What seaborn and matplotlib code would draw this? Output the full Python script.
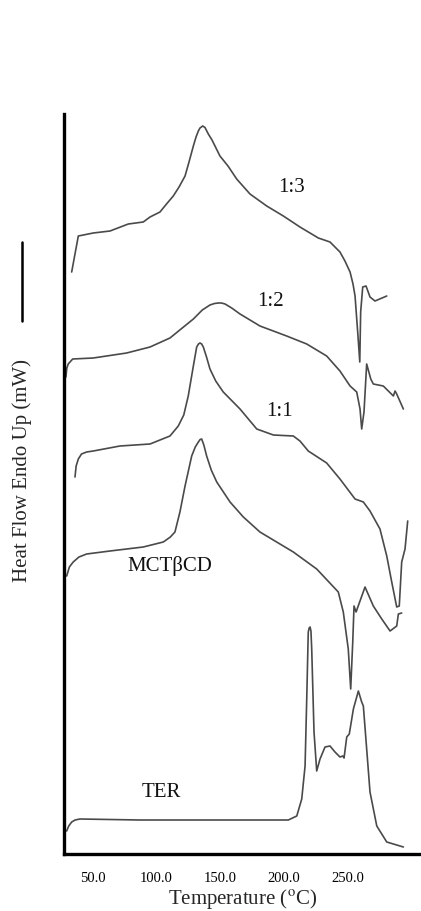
import numpy as np
import pandas as pd
import matplotlib
matplotlib.use("Agg")
import matplotlib.pyplot as plt
import seaborn as sns

# DSC thermograms (temperature in degC, heat flow in arbitrary offset units)
t_13 = [33.8, 39.0, 50.7, 63.8, 78.1, 89.8, 95.1, 102.9, 108.0, 113.3, 117.8, 122.5,
        125.6, 129.0, 131.1, 132.9, 134.2, 136.3, 138.1, 140.7, 143.6, 149.8, 156.1,
        162.9, 173.3, 186.4, 199.4, 212.4, 226.8, 235.9, 243.7, 247.6, 251.6, 253.9,
        255.5, 257.8, 259.2, 259.9, 261.5, 264.1, 267.2, 271.1, 280.3]
hf_13 = [58.2, 61.8, 62.1, 62.3, 63.0, 63.2, 63.7, 64.2, 65.0, 65.8, 66.7, 67.8,
         69.2, 70.8, 71.7, 72.3, 72.6, 72.8, 72.65, 72.0, 71.4, 69.8, 68.8,
         67.5, 66.0, 64.8, 63.8, 62.7, 61.6, 61.2, 60.2, 59.3, 58.2, 57.0,
         55.8, 51.8, 49.2, 54.2, 56.7, 56.8, 55.7, 55.3, 55.8]

t_12 = [29.3, 30.0, 31.1, 34.6, 50.7, 76.8, 95.1, 110.7, 129.0, 136.0, 142.0, 145.5,
        148.5, 151.0, 153.8, 159.0, 165.5, 181.1, 202.0, 217.7, 233.3, 243.7, 251.6,
        256.8, 259.4, 260.7, 262.5, 264.6, 267.8, 269.8, 277.6, 285.5, 286.8, 288.1,
        293.3]
hf_12 = [47.7, 48.6, 49.0, 49.5, 49.6, 50.1, 50.7, 51.6, 53.5, 54.4, 54.9, 55.05,
         55.1, 55.1, 55.0, 54.6, 54.0, 52.8, 51.8, 51.0, 49.8, 48.3, 46.8,
         46.2, 44.5, 42.5, 44.2, 49.0, 47.5, 47.0, 46.8, 45.8, 46.3, 46.0,
         44.5]

t_11 = [36.4, 37.3, 39.0, 41.5, 45.5, 50.7, 71.6, 95.1, 110.7, 117.2, 121.5, 125.0,
        129.0, 131.6, 133.0, 134.2, 135.5, 136.8, 139.3, 142.0, 146.5, 152.4, 165.5,
        178.6, 191.6, 207.2, 212.4, 218.9, 233.3, 243.7, 255.5, 262.0, 267.2, 275.0,
        280.3, 284.2, 288.1, 290.1, 292.0, 294.6, 296.7]
hf_11 = [37.7, 38.8, 39.5, 40.0, 40.2, 40.3, 40.8, 41.0, 41.8, 42.8, 43.9, 45.8,
         48.8, 50.7, 51.0, 51.1, 51.0, 50.7, 49.7, 48.5, 47.3, 46.2, 44.5,
         42.5, 41.9, 41.8, 41.3, 40.3, 39.1, 37.5, 35.5, 35.2, 34.3, 32.5,
         29.8, 27.2, 24.7, 24.8, 29.2, 30.5, 33.3]

t_mct = [29.9, 32.0, 35.0, 39.5, 45.5, 63.8, 89.8, 105.5, 111.0, 114.6, 118.5, 122.5,
         127.7, 130.5, 132.9, 134.3, 135.5, 137.2, 139.4, 143.0, 147.3, 157.7, 168.1,
         181.1, 207.2, 225.5, 242.4, 246.3, 250.2, 252.1, 253.7, 254.7, 256.3, 263.3,
         269.8, 276.4, 282.9, 288.1, 289.4, 292.0]
hf_mct = [27.8, 28.7, 29.2, 29.7, 30.0, 30.3, 30.7, 31.2, 31.7, 32.2, 34.2, 36.8,
          39.8, 40.7, 41.2, 41.45, 41.5, 40.9, 39.8, 38.4, 37.2, 35.2, 33.7,
          32.2, 30.2, 28.5, 26.2, 24.2, 20.5, 16.5, 21.2, 24.8, 24.2, 26.7,
          24.8, 23.5, 22.3, 22.8, 24.0, 24.1]

t_ter = [29.9, 31.5, 33.8, 36.5, 40.3, 87.2, 134.2, 203.3, 209.9, 213.8, 216.4, 217.7,
         218.9, 219.6, 220.3, 221.0, 221.6, 223.4, 225.5, 228.1, 232.0, 235.9, 239.8,
         243.7, 245.9, 246.9, 249.0, 251.0, 254.2, 258.1, 260.7, 262.0, 264.6, 267.2,
         272.5, 280.3, 293.3]
hf_ter = [2.3, 2.8, 3.2, 3.4, 3.5, 3.4, 3.4, 3.4, 3.8, 5.5, 8.8, 15.5,
          22.2, 22.6, 22.7, 22.3, 20.5, 12.2, 8.3, 9.5, 10.7, 10.8, 10.2,
          9.7, 9.8, 9.6, 11.7, 12.0, 14.5, 16.3, 15.2, 14.8, 10.5, 6.2,
          2.8, 1.2, 0.7]

curves = [(t_13, hf_13), (t_12, hf_12), (t_11, hf_11), (t_mct, hf_mct), (t_ter, hf_ter)]
labels = ["1:3", "1:2", "1:1", "MCT\u03b2CD", "TER"]
label_pos = [(206.2, 66.8), (189.0, 55.3), (196.0, 44.3), (110.7, 28.9), (103.7, 6.2)]
xticks = [50.0, 100.0, 150.0, 200.0, 250.0]

sns.set_style("white")
plt.rcParams["font.family"] = ["Liberation Serif", "DejaVu Serif"]
plt.rcParams["mathtext.fontset"] = "stix"

fig = plt.figure(figsize=(4.21, 9.12), dpi=100)
ax = fig.add_axes([64 / 421, 57 / 912, 357 / 421, 740 / 912])

line_col = "#4a4a4a"
for t, hf in curves:
    sns.lineplot(x=t, y=hf, ax=ax, color=line_col, linewidth=1.2,
                 sort=False, estimator=None)

for lab, (tx, ty) in zip(labels, label_pos):
    ax.text(tx, ty, lab, fontsize=15, ha="center", va="center", color="#111111")

ax.set_xlim(27.8, 307.1)
ax.set_ylim(0, 74)
ax.set_xticks(xticks)
ax.set_xticklabels([f"{v:.1f}" for v in xticks], fontsize=10.5)
ax.set_yticks([])
ax.tick_params(axis="x", direction="inout", length=7, width=1.6, pad=9, colors="black")

for side in ["top", "right"]:
    ax.spines[side].set_visible(False)
for side in ["left", "bottom"]:
    ax.spines[side].set_linewidth(2.4)
    ax.spines[side].set_color("black")

ax.set_xlabel("Temperature ($^{\\mathrm{o}}$C)", fontsize=15, labelpad=1)
ax.set_ylabel("")

# y label and scale bar placed in figure coordinates
fig.text(22 / 421, 1 - 470 / 912, "Heat Flow Endo Up (mW)", rotation=90,
         fontsize=15, ha="center", va="center")
fig.add_artist(plt.Line2D([22 / 421, 22 / 421], [1 - 243 / 912, 1 - 322 / 912],
                          color="black", linewidth=1.8))

fig.savefig("out.png", dpi=100)
